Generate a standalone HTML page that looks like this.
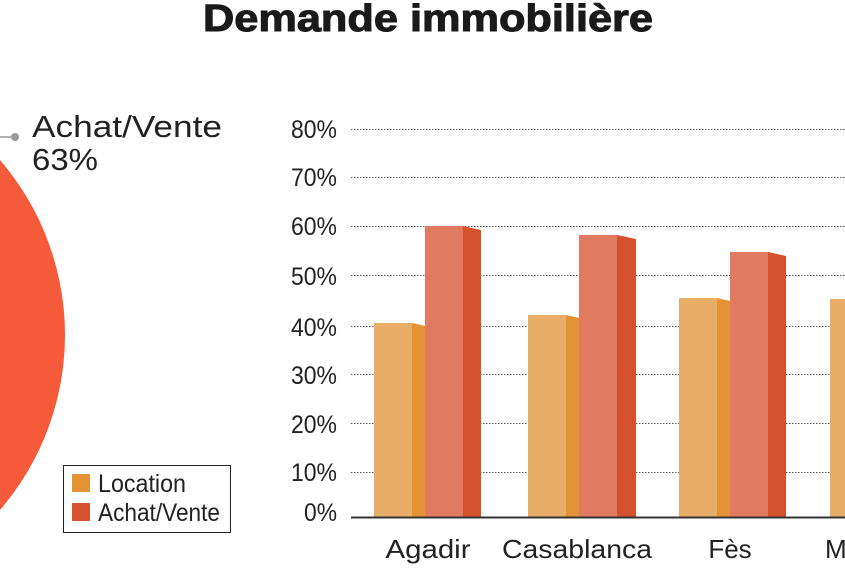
<!DOCTYPE html>
<html><head><meta charset="utf-8"><style>
body{margin:0;width:845px;height:570px;overflow:hidden;background:#fff;font-family:"Liberation Sans",sans-serif}
</style></head><body>
<svg width="845" height="570" viewBox="0 0 845 570" xmlns="http://www.w3.org/2000/svg">
<text x="428" y="31" text-anchor="middle" font-family="Liberation Sans" font-weight="bold" font-size="38" fill="#1a1a1a" stroke="#1a1a1a" stroke-width="1" textLength="450" lengthAdjust="spacingAndGlyphs">Demande immobilière</text>
<circle cx="-203" cy="335" r="268" fill="#f55a3a"/>
<line x1="0" y1="137" x2="15" y2="137" stroke="#999" stroke-width="1.5"/>
<circle cx="15" cy="137" r="4" fill="#999"/>
<text x="32" y="137" font-size="31" fill="#222" textLength="190" lengthAdjust="spacingAndGlyphs">Achat/Vente</text>
<text x="32" y="170" font-size="31" fill="#222" textLength="66" lengthAdjust="spacingAndGlyphs">63%</text>
<rect x="63.5" y="465.5" width="167" height="67" fill="#fff" stroke="#222"/>
<rect x="72" y="474" width="18" height="18" fill="#e39334"/>
<rect x="72" y="503" width="18" height="18" fill="#d5502d"/>
<text x="98" y="492" font-size="25" fill="#222" textLength="88" lengthAdjust="spacingAndGlyphs">Location</text>
<text x="98" y="521" font-size="25" fill="#222" textLength="122" lengthAdjust="spacingAndGlyphs">Achat/Vente</text>
<g stroke="#555" stroke-width="1" stroke-dasharray="1.5,1.5">
<line x1="351" y1="129.5" x2="845" y2="129.5"/><line x1="351" y1="177.5" x2="845" y2="177.5"/>
<line x1="351" y1="226.5" x2="845" y2="226.5"/><line x1="351" y1="275.5" x2="845" y2="275.5"/>
<line x1="351" y1="326.5" x2="845" y2="326.5"/><line x1="351" y1="374.5" x2="845" y2="374.5"/>
<line x1="351" y1="423.5" x2="845" y2="423.5"/><line x1="351" y1="472.5" x2="845" y2="472.5"/>
</g>
<g font-size="25" fill="#222" text-anchor="end">
<text x="337" y="138" textLength="46" lengthAdjust="spacingAndGlyphs">80%</text>
<text x="337" y="186" textLength="46" lengthAdjust="spacingAndGlyphs">70%</text>
<text x="337" y="235" textLength="46" lengthAdjust="spacingAndGlyphs">60%</text>
<text x="337" y="285" textLength="46" lengthAdjust="spacingAndGlyphs">50%</text>
<text x="337" y="336" textLength="46" lengthAdjust="spacingAndGlyphs">40%</text>
<text x="337" y="384" textLength="46" lengthAdjust="spacingAndGlyphs">30%</text>
<text x="337" y="433" textLength="46" lengthAdjust="spacingAndGlyphs">20%</text>
<text x="337" y="481" textLength="46" lengthAdjust="spacingAndGlyphs">10%</text>
<text x="337" y="521" textLength="33" lengthAdjust="spacingAndGlyphs">0%</text>
</g>
<rect x="374" y="323" width="38" height="194" fill="#e8ae68"/>
<polygon points="412,323 426,326 426,517 412,517" fill="#e39334"/>
<rect x="425" y="226" width="38" height="291" fill="#e07a60"/>
<polygon points="463,226 481,230 481,517 463,517" fill="#d5502d"/>
<rect x="528" y="315" width="38" height="202" fill="#e8ae68"/>
<polygon points="566,315 580,318 580,517 566,517" fill="#e39334"/>
<rect x="579" y="235" width="38" height="282" fill="#e07a60"/>
<polygon points="617,235 636,239 636,517 617,517" fill="#d5502d"/>
<rect x="679" y="298" width="38" height="219" fill="#e8ae68"/>
<polygon points="717,298 730,301 730,517 717,517" fill="#e39334"/>
<rect x="730" y="252" width="38" height="265" fill="#e07a60"/>
<polygon points="768,252 786,256 786,517 768,517" fill="#d5502d"/>
<rect x="830" y="299" width="15" height="218" fill="#e8ae68"/>
<line x1="351" y1="517.5" x2="845" y2="517.5" stroke="#333" stroke-width="2"/>
<g font-size="26" fill="#222" text-anchor="middle">
<text x="428" y="558" textLength="85" lengthAdjust="spacingAndGlyphs">Agadir</text>
<text x="577" y="558" textLength="150" lengthAdjust="spacingAndGlyphs">Casablanca</text>
<text x="730" y="558">Fès</text>
<text x="843" y="558">Ma</text>
</g>
</svg>
</body></html>
